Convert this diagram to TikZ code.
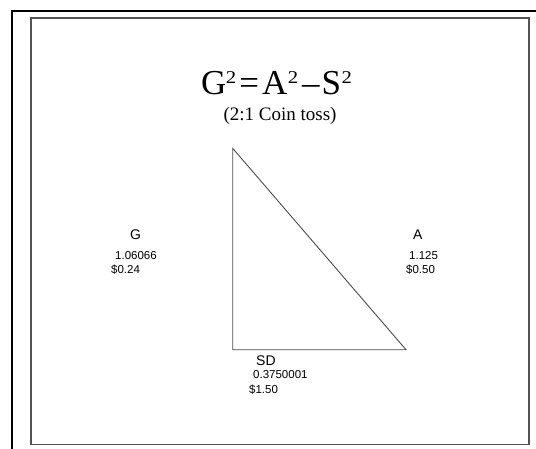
\documentclass[tikz,border=0pt]{standalone}
\usepackage{fontspec}
\setmainfont{Liberation Serif}
\newfontfamily\arialfont{Liberation Sans}
\newcommand{\sqtwo}{\raisebox{11pt}{\scalebox{1.15}[1]{\fontsize{18}{18}\selectfont 2}}}
\begin{document}
\begin{tikzpicture}[x=1pt,y=-1pt,
  lbl/.style={font=\arialfont\fontsize{14}{14}\selectfont,anchor=base west,inner sep=0pt},
  num/.style={font=\arialfont\fontsize{11.5}{11.5}\selectfont,anchor=base west,inner sep=0pt},
  tri/.style={draw=black!70,line width=0.9pt}]
\useasboundingbox (0,0) rectangle (536,448);
\fill[white] (0,0) rectangle (536,448);
\draw[black,line width=2pt] (12,11) rectangle (545,460);
\draw[black!68,line width=1.6pt] (31,17.7) rectangle (528.7,444.3);
% title
\node[anchor=base west,inner sep=0pt,font=\fontsize{35}{35}\selectfont] (title) at (201,94)
  {G\kern-0.5pt\sqtwo\kern3pt=\kern3pt A\kern0.5pt\sqtwo\kern4pt--\kern2pt S\kern0.5pt\sqtwo};
\node[anchor=base,inner sep=0pt,font=\fontsize{19}{19}\selectfont] (sub) at (280,120) {(2:1 Coin toss)};
% triangle
\coordinate (top) at (232.7,148.3);
\coordinate (bl) at (232.7,349.7);
\coordinate (br) at (406,349.7);
\draw[tri] (top) -- (bl) -- (br) -- cycle;
% labels
\node[lbl] (G) at (130,239) {G};
\node[num] (Gv) at (115,259) {1.06066};
\node[num] (Gd) at (111,273) {\$0.24};
\node[lbl] (A) at (413,239) {A};
\node[num] (Av) at (409,259) {1.125};
\node[num] (Ad) at (406,273) {\$0.50};
\node[lbl] (SD) at (256,365) {SD};
\node[num] (SDv) at (253,378) {0.3750001};
\node[num] (SDd) at (249,393) {\$1.50};
\end{tikzpicture}
\end{document}
